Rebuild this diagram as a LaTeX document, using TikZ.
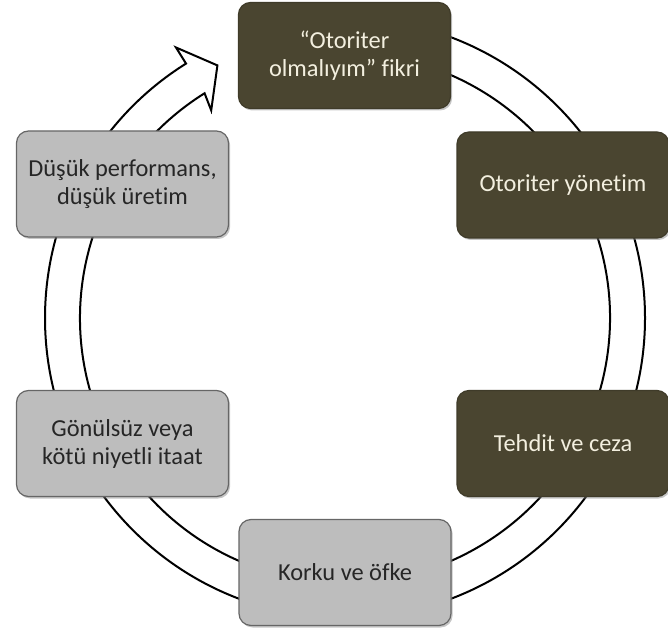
\documentclass[tikz,border=0pt]{standalone}
\usepackage{fontspec}
\setmainfont[Ligatures=NoCommon]{Carlito}
\usepackage{tikz}
\usetikzlibrary{calc,shadows}
\definecolor{cycledark}{HTML}{4A4530}
\definecolor{cyclelight}{HTML}{BDBDBD}
\definecolor{cyclecream}{HTML}{F3EFDF}
\definecolor{cycletext}{HTML}{262626}

\begin{document}
\begin{tikzpicture}[x=0.5pt,y=0.5pt,font=\fontsize{12.2}{14}\selectfont,
  cyclebox/.style={rounded corners=6pt,minimum width=106pt,minimum height=53pt,
    align=center,line width=0.6pt,
    drop shadow={opacity=0.45,shadow xshift=0.8pt,shadow yshift=-1pt}},
  darkbox/.style={cyclebox,fill=cycledark,draw=cycledark!85!black,text=cyclecream},
  lightbox/.style={cyclebox,fill=cyclelight,draw=black!60,text=cycletext},
  band/.style={draw=black,fill=white,line width=1pt,line join=miter}]
  \useasboundingbox (0,0) rectangle (668,637);
  \coordinate (ring) at (345,319);

  % Ring arrow
  \draw[band] ($(ring)+(90:300)$) arc[start angle=90,end angle=-238,radius=300]
    -- ($(ring)+(122:319)$) -- ($(ring)+(116.8:283)$) -- ($(ring)+(122.8:247)$)
    -- ($(ring)+(122:265)$) arc[start angle=122,end angle=450,radius=265] -- cycle;

  % Steps of the cycle
  \node[darkbox] (fikir) at (344.5,581.5) {“Otoriter\\olmalıyım” fikri};
  \node[darkbox] (yonetim) at (563,452) {Otoriter yönetim};
  \node[darkbox] (tehdit) at (563,193.5) {Tehdit ve ceza};
  \node[lightbox] (korku) at (345,64.5) {Korku ve öfke};
  \node[lightbox] (itaat) at (122.5,193.5) {Gönülsüz veya\\kötü niyetli itaat};
  \node[lightbox] (uretim) at (122.5,453) {Düşük performans,\\düşük üretim};
\end{tikzpicture}
\end{document}
